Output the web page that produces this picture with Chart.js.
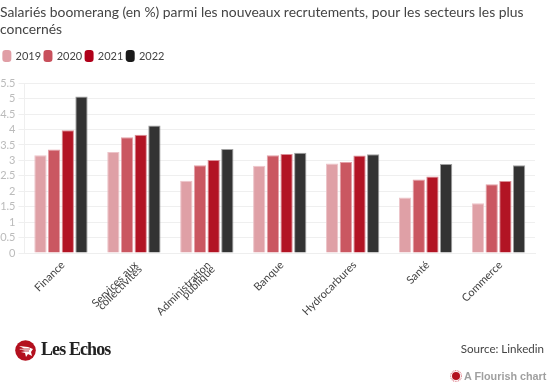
<!DOCTYPE html>
<html lang="fr"><head><meta charset="utf-8">
<style>
html,body{margin:0;padding:0;background:#fff;width:557px;height:390px;overflow:hidden}
#wrap{position:absolute;left:0;top:0;width:557px;height:390px}
canvas{display:block}
.t{position:absolute;white-space:nowrap}
#src{right:13px;top:342px;font:11.6px Lato,sans-serif;color:#444}
#fl{left:464px;top:370px;font:bold 10.8px "Liberation Sans",sans-serif;color:#a0a0a0}
#le{left:41px;top:339px;font:bold 18px "Liberation Serif",serif;color:#222;letter-spacing:-.9px}
svg{position:absolute}
</style></head><body><div id="wrap"><canvas id="c" width="557" height="390"></canvas>
<svg style="left:15px;top:340px" width="21" height="21" viewBox="0 0 21 21"><circle cx="10.5" cy="10.5" r="10.3" fill="#b3101e"/><path d="M4 6l9 1 5 2-2 3 1 4-4-2-2 3-1-4-4-1 4-1-6-2 5-.5z" fill="#fff"/><path d="M6 9h9M7 11h7" stroke="#b3101e" stroke-width=".8"/></svg>
<div class="t" id="le">Les Echos</div>
<div class="t" id="src">Source: Linkedin</div>
<svg style="left:450px;top:370px" width="12" height="12" viewBox="0 0 12 12"><circle cx="6" cy="6" r="5.4" fill="none" stroke="#e08a94" stroke-width="1.2" stroke-dasharray="1 .7"/><circle cx="6" cy="6" r="4" fill="#b3101e"/></svg>
<div class="t" id="fl">A Flourish chart</div>
</div>
<script src="https://cdn.jsdelivr.net/npm/chart.js@4"></script>
<script>
const titleLines=["Salariés boomerang (en %) parmi les nouveaux recrutements, pour les secteurs les plus","concernés"];
const categories=[["Finance"],["Services aux","collectivités"],["Administration","publique"],["Banque"],["Hydrocarbures"],["Santé"],["Commerce"]];
const yTicks=[0,0.5,1,1.5,2,2.5,3,3.5,4,4.5,5,5.5];
const v2019=[3.17,3.27,2.34,2.83,2.90,1.80,1.61];
const v2020=[3.35,3.75,2.84,3.17,2.95,2.38,2.23];
const v2021=[3.98,3.83,3.01,3.21,3.16,2.48,2.33];
const v2022=[5.07,4.13,3.37,3.25,3.20,2.88,2.84];
const seriesNames=["2019","2020","2021","2022"];
const fills=["#dfa0a6","#ca5761","#b21424","#333333"];
const swatches=["#e09ea5","#c8505c","#b0001a","#1a1a1a"];
const edges=["rgba(235,190,195,.9)","rgba(225,150,158,.9)","rgba(215,130,140,.9)","rgba(150,150,150,.9)"];
const allValues=[v2019,v2020,v2021,v2022];
const legendGap={id:'legendGap',afterInit(chart){const l=chart.legend,f=l.fit;l.fit=function(){f.call(this);this.height+=11.7;};}};
new Chart(document.getElementById('c'),{
 type:'bar',
 plugins:[legendGap],
 data:{labels:categories,datasets:allValues.map((d,i)=>({label:seriesNames[i],data:d,backgroundColor:fills[i],borderColor:edges[i],borderWidth:1,categoryPercentage:.75,barPercentage:.9}))},
 options:{
  responsive:false,animation:false,
  layout:{padding:{left:0,right:22,top:0,bottom:0}},
  plugins:{
   tooltip:{enabled:false},
   title:{display:true,text:titleLines,align:'start',color:'#444',font:{family:'Lato',size:13.9,weight:'normal',lineHeight:1.22},padding:{top:4.5,bottom:8.5}},
   legend:{display:true,position:'top',align:'start',
    labels:{color:'#444',font:{family:'Lato',size:11},boxWidth:6.5,boxHeight:9.5,padding:3.6,useBorderRadius:true,borderRadius:2,
     generateLabels:(ch)=>ch.data.datasets.map((d,i)=>({text:d.label,fillStyle:swatches[i],strokeStyle:swatches[i],lineWidth:2.5,fontColor:'#444',datasetIndex:i,borderRadius:2}))}}
  },
  scales:{
   x:{offset:true,
    grid:{display:false,drawTicks:true,tickLength:5,tickColor:'#eeeeee'},
    border:{color:'#eeeeee'},
    ticks:{maxRotation:45,minRotation:45,color:'#444',autoSkip:false,padding:3,labelOffset:2,font:{family:'Lato',size:11,lineHeight:.55}},
    afterFit:s=>{s.height=137}
   },
   y:{min:0,max:5.5,
    afterBuildTicks:s=>{s.ticks=yTicks.map(v=>({value:v}))},
    grid:{color:'#efefef',lineWidth:1,tickLength:6,tickColor:'#efefef'},
    border:{color:'#efefef'},
    ticks:{color:'#bbbbbb',padding:3,autoSkip:false,font:{family:'Lato',size:11},callback:v=>String(v)},
    afterFit:s=>{s.width=24.5}
   }
  }
 }
});
</script></body></html>
